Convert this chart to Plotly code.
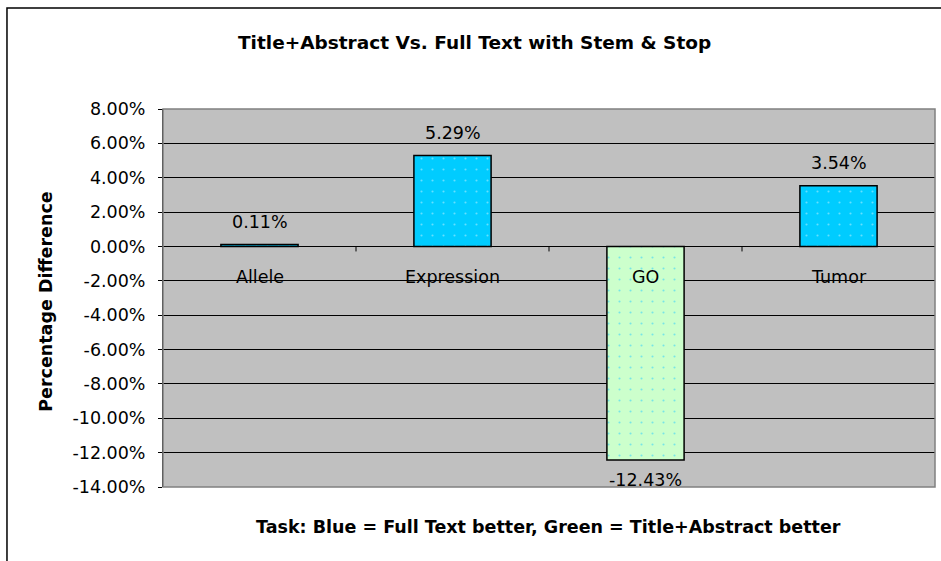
import plotly.graph_objects as go

# Task categories and percentage differences (Full Text minus Title+Abstract)
tasks = ["Allele", "Expression", "GO", "Tumor"]
pct_diff = [0.0011, 0.0529, -0.1243, 0.0354]

# y-axis ticks (plain hyphen minus signs)
y_tick_vals = [0.08, 0.06, 0.04, 0.02, 0.0, -0.02, -0.04, -0.06, -0.08,
               -0.10, -0.12, -0.14]
y_tick_text = ["8.00%", "6.00%", "4.00%", "2.00%", "0.00%", "-2.00%", "-4.00%",
               "-6.00%", "-8.00%", "-10.00%", "-12.00%", "-14.00%"]

BLUE, BLUE_DOT = "#00CCFF", "#CCF4FF"
GREEN, GREEN_DOT = "#CCFFCC", "#22CCFF"
FONT = "DejaVu Sans, Verdana, sans-serif"
SZ = 17.5

fig = go.Figure()

# blue bars: Full Text better; green bars: Title+Abstract better
groups = [
    ("Full Text better", [t for t, v in zip(tasks, pct_diff) if v >= 0],
     [v for v in pct_diff if v >= 0], BLUE, BLUE_DOT),
    ("Title+Abstract better", [t for t, v in zip(tasks, pct_diff) if v < 0],
     [v for v in pct_diff if v < 0], GREEN, GREEN_DOT),
]
for name, xs, ys, fill, dot in groups:
    fig.add_trace(go.Bar(
        name=name, x=xs, y=ys, width=0.40,
        marker=dict(
            color=fill,
            line=dict(color="black", width=1.5),
            pattern=dict(shape=".", fillmode="overlay", bgcolor=fill,
                         fgcolor=dot, size=11, solidity=0.03),
        ),
        hoverinfo="skip",
    ))

annotations = []
for t, v in zip(tasks, pct_diff):
    # value labels above positive bars, below negative ones
    annotations.append(dict(
        x=t, y=v, xref="x", yref="y", text=f"{v*100:.2f}%", showarrow=False,
        yanchor="bottom" if v >= 0 else "top", yshift=11 if v >= 0 else -8,
        font=dict(family=FONT, size=SZ, color="black"),
    ))
    # category labels just below the zero line
    annotations.append(dict(
        x=t, y=0, xref="x", yref="y", text=t, showarrow=False,
        yanchor="top", yshift=-19,
        font=dict(family=FONT, size=SZ, color="black"),
    ))

annotations.append(dict(
    x=0.404, y=1.0, xref="paper", yref="paper", yanchor="middle",
    yshift=67, text="<b>Title+Abstract Vs. Full Text with Stem & Stop</b>",
    showarrow=False, font=dict(family=FONT, size=18.5, color="black"),
))
annotations.append(dict(
    x=0.499, y=0.0, xref="paper", yref="paper", yanchor="middle",
    yshift=-40, text="<b>Task: Blue = Full Text better, Green = Title+Abstract better</b>",
    showarrow=False, font=dict(family=FONT, size=17.5, color="black"),
))
annotations.append(dict(
    x=0.0, y=0.49, xref="paper", yref="paper", xanchor="center",
    xshift=-117, text="<b>Percentage Difference</b>", textangle=-90,
    showarrow=False, font=dict(family=FONT, size=17.5, color="black"),
))

shapes = [
    # outer chart frame
    dict(type="rect", xref="paper", yref="paper", x0=-0.2021, x1=1.05,
         y0=-0.25, y1=1.267, line=dict(color="black", width=1.5), layer="below"),
    # plot-area border
    dict(type="rect", xref="paper", yref="paper", x0=0, x1=1, y0=0, y1=1,
         line=dict(color="#808080", width=1.5), layer="above"),
]
# small category-boundary ticks on the zero line
for b in [0.5, 1.5, 2.5]:
    shapes.append(dict(type="line", xref="x", yref="y", ysizemode="pixel",
                       yanchor=0, x0=b, x1=b, y0=0, y1=-5,
                       line=dict(color="black", width=1)))

fig.update_layout(
    width=941, height=561,
    margin=dict(l=163, r=6, t=109, b=74),
    paper_bgcolor="white",
    plot_bgcolor="#C0C0C0",
    showlegend=False,
    barmode="overlay",
    annotations=annotations,
    shapes=shapes,
    xaxis=dict(showticklabels=False, showgrid=False, ticks="",
               showline=False, zeroline=False, range=[-0.5, 3.5],
               categoryorder="array", categoryarray=tasks),
    yaxis=dict(range=[-0.14, 0.08], tickvals=y_tick_vals, ticktext=y_tick_text,
               showgrid=True, gridcolor="black", gridwidth=1,
               zeroline=True, zerolinecolor="black", zerolinewidth=1,
               showline=True, linecolor="black", linewidth=1,
               ticks="outside", ticklen=4, tickcolor="black",
               ticklabelstandoff=9,
               tickfont=dict(family=FONT, size=SZ, color="black")),
)

fig.write_html("out.html")
